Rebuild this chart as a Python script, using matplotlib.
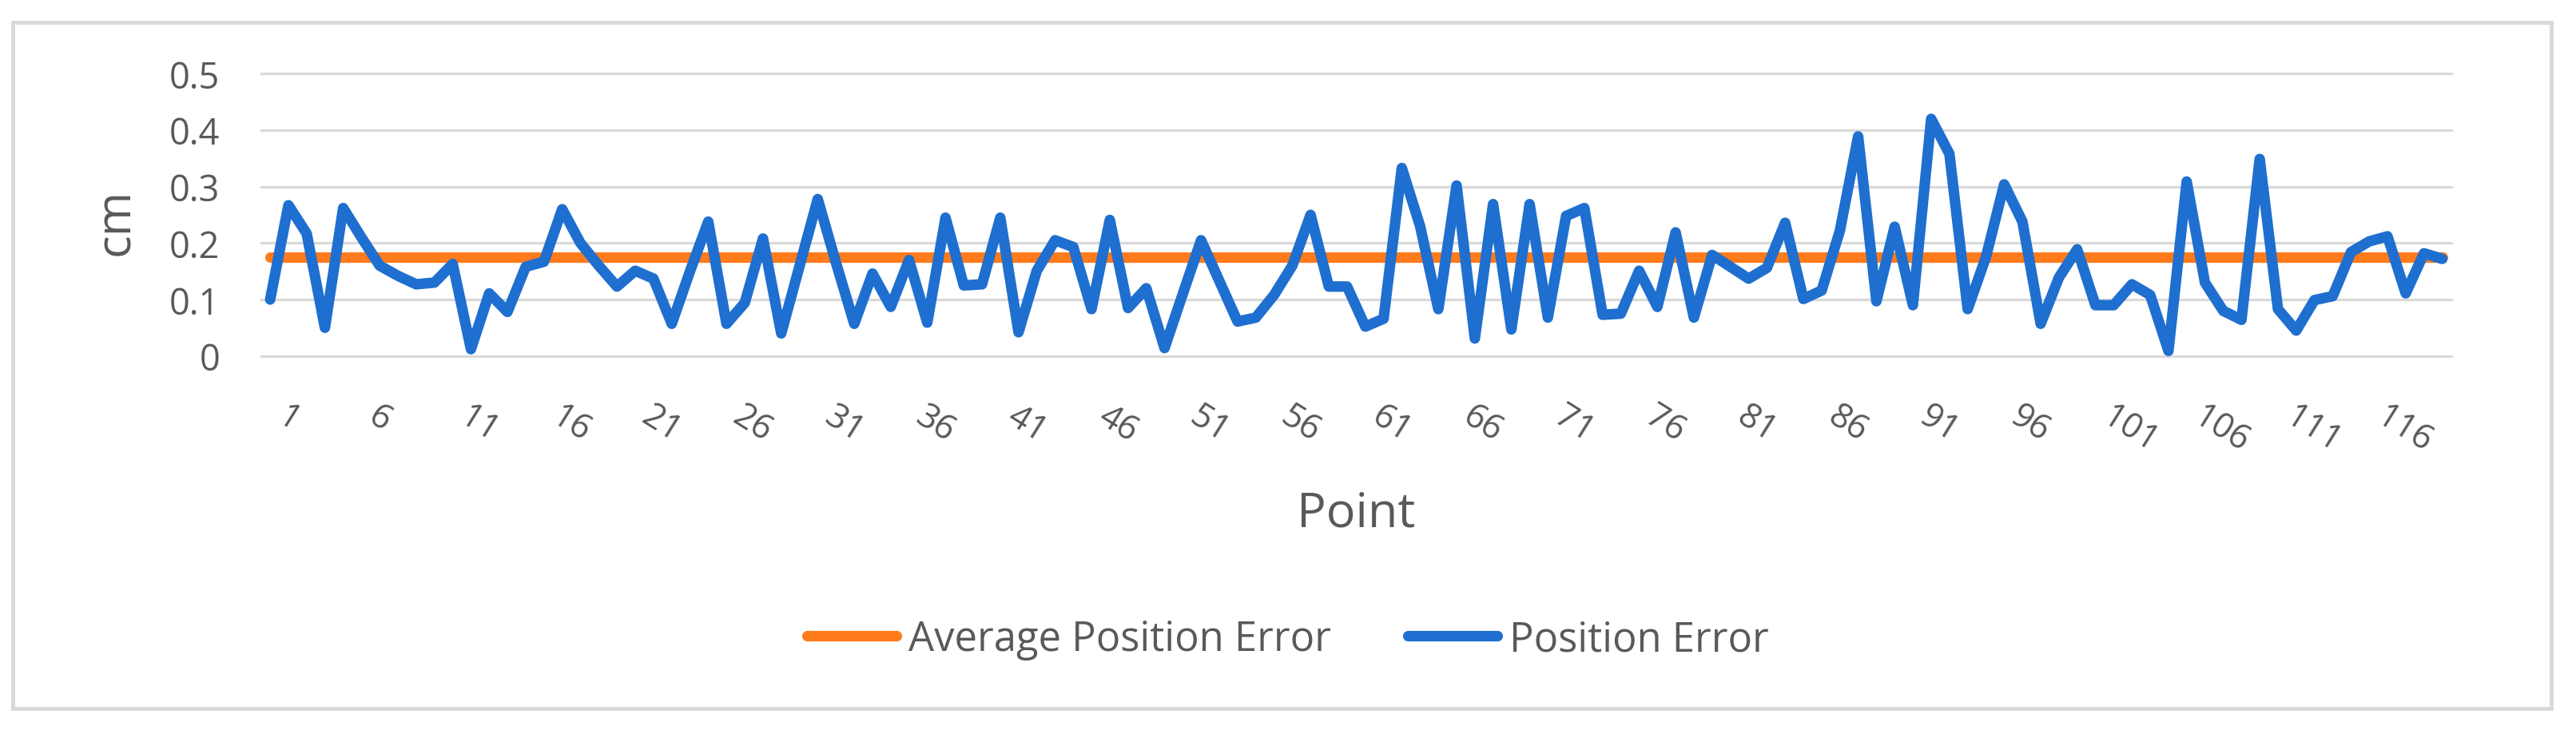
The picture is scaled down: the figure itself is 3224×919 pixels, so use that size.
import matplotlib
matplotlib.use('Agg')
import matplotlib.pyplot as plt
import matplotlib.patches as mpatches

# ── data ──────────────────────────────────────────────────────
points = list(range(1, 121))
position_error = [
    0.100, 0.267, 0.217, 0.050, 0.262, 0.210, 0.160, 0.142, 0.127, 0.130,
    0.163, 0.012, 0.111, 0.078, 0.158, 0.167, 0.260, 0.200, 0.160, 0.123,
    0.151, 0.137, 0.057, 0.150, 0.238, 0.057, 0.094, 0.208, 0.040, 0.159,
    0.278, 0.165, 0.057, 0.146, 0.087, 0.170, 0.059, 0.245, 0.125, 0.127,
    0.245, 0.042, 0.151, 0.205, 0.193, 0.083, 0.241, 0.085, 0.120, 0.014,
    0.110, 0.205, 0.133, 0.061, 0.068, 0.108, 0.160, 0.250, 0.123, 0.123,
    0.052, 0.066, 0.333, 0.230, 0.083, 0.302, 0.031, 0.269, 0.047, 0.269,
    0.068, 0.248, 0.262, 0.073, 0.075, 0.151, 0.087, 0.219, 0.068, 0.179,
    0.158, 0.137, 0.156, 0.236, 0.101, 0.116, 0.222, 0.389, 0.097, 0.229,
    0.090, 0.420, 0.358, 0.083, 0.175, 0.304, 0.238, 0.057, 0.139, 0.189,
    0.090, 0.090, 0.127, 0.108, 0.009, 0.309, 0.130, 0.080, 0.064, 0.349,
    0.083, 0.045, 0.099, 0.106, 0.184, 0.203, 0.212, 0.111, 0.182, 0.172,
]
avg_error = 0.175
avg_line = [avg_error] * len(points)

x_tick_points = points[::5]
y_ticks = [0, 0.1, 0.2, 0.3, 0.4, 0.5]
y_tick_labels = ['0', '0.1', '0.2', '0.3', '0.4', '0.5']

# ── style ─────────────────────────────────────────────────────
BLUE   = '#1E6FCF'
ORANGE = '#FF7B1C'
GRID   = '#D9D9D9'
TEXT   = '#595959'

plt.rcParams['font.family'] = ['Open Sans', 'DejaVu Sans']

W, H = 3224, 920
fig = plt.figure(figsize=(W / 100, H / 100), dpi=100, facecolor='white')

# plot area in pixels: x 326.7..3068, y 93.3..446.7 (from top)
ax = fig.add_axes([326.7 / W, 1 - 446.7 / H, (3068 - 326.7) / W, (446.7 - 93.3) / H])

ax.plot(points, avg_line, color=ORANGE, lw=9.5, solid_capstyle='round',
        label='Average Position Error', zorder=3, clip_on=False)
ax.plot(points, position_error, color=BLUE, lw=9.5, solid_capstyle='round',
        solid_joinstyle='round', label='Position Error', zorder=4, clip_on=False)

ax.set_xlim(0.5, 120.5)
ax.set_ylim(0, 0.5)

ax.set_yticks(y_ticks)
ax.set_yticklabels(y_tick_labels)
ax.tick_params(axis='y', length=0, pad=37, labelsize=32.5, labelcolor=TEXT)

ax.set_xticks(x_tick_points)
ax.set_xticklabels([str(p) for p in x_tick_points], rotation=-32,
                   ha='left', va='top')
ax.tick_params(axis='x', length=0, pad=38, labelsize=31, labelcolor=TEXT)

ax.grid(axis='y', color=GRID, lw=2.3)
ax.grid(axis='x', visible=False)
ax.set_axisbelow(True)
for gl in ax.get_ygridlines():
    gl.set_clip_on(False)
for s in ax.spines.values():
    s.set_visible(False)

# axis titles
fig.text(145 / W, 1 - 278 / H, 'cm', rotation=90, ha='center', va='center',
         fontsize=43, color=TEXT)
fig.text(1697 / W, 1 - 660 / H, 'Point', ha='center', va='baseline',
         fontsize=44, color=TEXT)

# legend
fig.legend(loc='center', bbox_to_anchor=(0.5, 1 - 801.7 / H), ncol=2,
           frameon=False, fontsize=36.5, labelcolor=TEXT,
           handlelength=2.2, handletextpad=0.3, columnspacing=1.9)

# chart border
fig.patches.append(mpatches.Rectangle((16 / W, 1 - 888 / H), (3193 - 16) / W, (888 - 29) / H,
                                      transform=fig.transFigure, fill=False,
                                      edgecolor=GRID, lw=3.5))

fig.savefig('out.png', dpi=100, facecolor='white')
